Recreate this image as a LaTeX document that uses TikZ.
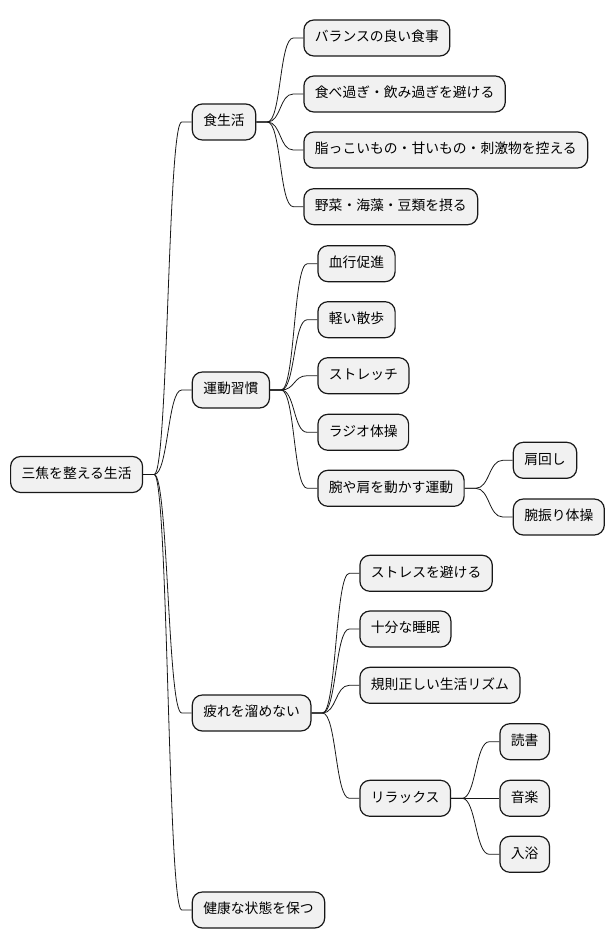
\documentclass[tikz,border=0pt]{standalone}
\usepackage{fontspec}
\setmainfont{Noto Sans CJK JP}
\usepackage{xcolor}
\usetikzlibrary{positioning, calc}
\definecolor{boxfill}{RGB}{241,241,241}
\definecolor{boxline}{RGB}{24,24,24}

\begin{document}
\begin{tikzpicture}[
  x=1pt, y=-1pt,
  topic/.style={rectangle, rounded corners=10pt, draw=boxline, fill=boxfill,
                line width=1.2pt, minimum height=36pt, inner xsep=11pt,
                anchor=west, text height=10pt, text depth=2.5pt,
                font=\fontsize{13.8}{16}\selectfont},
  branch/.style={draw=boxline, line width=0.8pt},
]
\useasboundingbox (0,0) rectangle (614,949);

% root and first level
\node[topic] (root)     at (10,474.5)  {三焦を整える生活};
\node[topic] (food)     at (191.7,122) {食生活};
\node[topic] (exercise) at (191.7,390) {運動習慣};
\node[topic] (fatigue)  at (191.7,713) {疲れを溜めない};
\node[topic] (health)   at (191.7,910) {健康な状態を保つ};

% food
\node[topic] (balance)  at (303.3,38)    {バランスの良い食事};
\node[topic] (overeat)  at (303.3,94)    {食べ過ぎ・飲み過ぎを避ける};
\node[topic] (greasy)   at (303.3,150)   {脂っこいもの・甘いもの・刺激物を控える};
\node[topic] (veggie)   at (303.3,206.7) {野菜・海藻・豆類を摂る};

% exercise
\node[topic] (blood)    at (317.3,263.7) {血行促進};
\node[topic] (walk)     at (317.3,319.7) {軽い散歩};
\node[topic] (stretch)  at (317.3,375.7) {ストレッチ};
\node[topic] (radio)    at (317.3,432.3) {ラジオ体操};
\node[topic] (arms)     at (317.3,488.3) {腕や肩を動かす運動};
\node[topic] (shoulder) at (512.7,460.3) {肩回し};
\node[topic] (armswing) at (512.7,517)   {腕振り体操};

% fatigue
\node[topic] (stress)   at (359.3,573.3) {ストレスを避ける};
\node[topic] (sleep)    at (359.3,629)   {十分な睡眠};
\node[topic] (rhythm)   at (359.3,685.3) {規則正しい生活リズム};
\node[topic] (relax)    at (359.3,798.3) {リラックス};
\node[topic] (reading)  at (499.3,741.7) {読書};
\node[topic] (music)    at (499.3,798.3) {音楽};
\node[topic] (bath)     at (499.3,854.3) {入浴};

% connectors
\foreach \p/\c in {root/food, root/exercise, root/fatigue, root/health,
                   food/balance, food/overeat, food/greasy, food/veggie,
                   exercise/blood, exercise/walk, exercise/stretch,
                   exercise/radio, exercise/arms,
                   arms/shoulder, arms/armswing,
                   fatigue/stress, fatigue/sleep, fatigue/rhythm, fatigue/relax,
                   relax/reading, relax/music, relax/bath}
  \draw[branch] (\p.east) -- ++(11,0) .. controls +(14,0) and +(-14,0) ..
    ([xshift=-10pt]\c.west) -- (\c.west);

\end{tikzpicture}
\end{document}
